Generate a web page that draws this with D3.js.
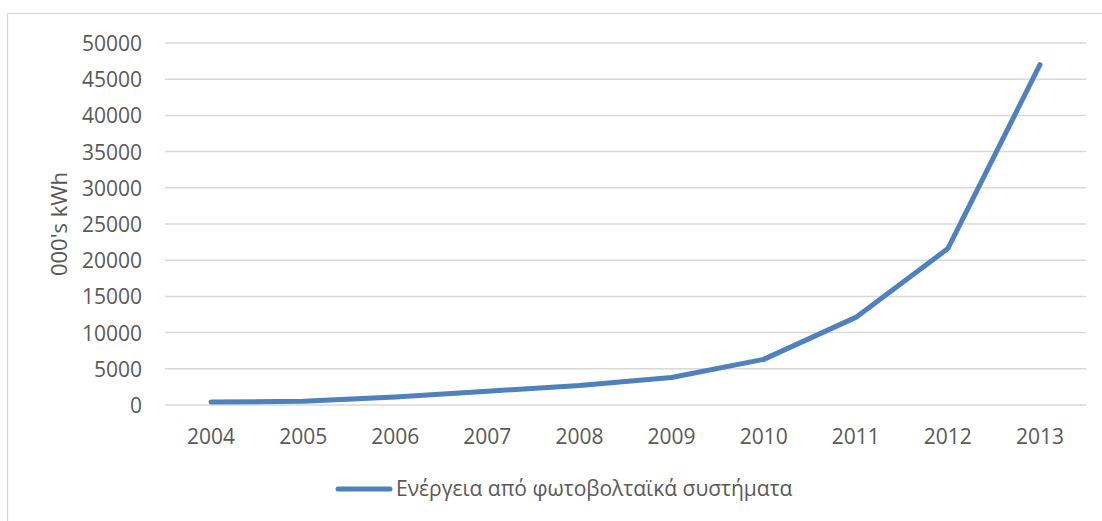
<!DOCTYPE html>
<html>
<head>
<meta charset="utf-8">
<script src="https://cdn.jsdelivr.net/npm/d3@7"></script>
<style>
  html, body { margin: 0; padding: 0; background: #fff; }
  svg { display: block; }
  text { font-family: "Open Sans", "Noto Sans", sans-serif; fill: #595959; }
</style>
</head>
<body>
<svg id="chart" width="1102" height="521"></svg>
<script>
const categories = ["2004", "2005", "2006", "2007", "2008", "2009", "2010", "2011", "2012", "2013"];
const seriesName = "Ενέργεια από φωτοβολταϊκά συστήματα";
const seriesValues = [400, 520, 1100, 1900, 2700, 3800, 6300, 12100, 21600, 47000];
const yTicks = [0, 5000, 10000, 15000, 20000, 25000, 30000, 35000, 40000, 45000, 50000];
const yTitle = "000's kWh";

const svg = d3.select("#chart");
const W = 1102, H = 521;
const plot = { left: 165, right: 1086, top: 43, bottom: 405 };

// outer chart frame
svg.append("rect")
  .attr("x", 7.5).attr("y", 13.5)
  .attr("width", W + 20).attr("height", H + 20)
  .attr("fill", "#fff").attr("stroke", "#d9d9d9").attr("stroke-width", 1.3);

const x = d3.scaleBand().domain(categories).range([plot.left, plot.right]);
const y = d3.scaleLinear().domain([0, 50000]).range([plot.bottom, plot.top]);

// gridlines
svg.append("g").selectAll("line").data(yTicks).join("line")
  .attr("x1", plot.left).attr("x2", plot.right)
  .attr("y1", d => y(d)).attr("y2", d => y(d))
  .attr("stroke", "#d9d9d9").attr("stroke-width", 1.5);

// y axis labels
const yAxis = d3.axisLeft(y).tickValues(yTicks).tickSize(0).tickPadding(0).tickFormat(d3.format("d"));
const gy = svg.append("g").attr("transform", `translate(142,0)`).call(yAxis);
gy.select(".domain").remove();
gy.selectAll("text").attr("font-size", 21).attr("fill", "#595959")
  .attr("font-family", "'Open Sans', sans-serif").attr("dy", "0.36em");

// x axis labels
const xAxis = d3.axisBottom(x).tickSize(0).tickPadding(0);
const gx = svg.append("g").attr("transform", `translate(0,${plot.bottom})`).call(xAxis);
gx.select(".domain").remove();
gx.selectAll("text").attr("font-size", 21).attr("fill", "#595959")
  .attr("font-family", "'Open Sans', sans-serif").attr("dy", null).attr("y", 39);

// y title
svg.append("text")
  .attr("transform", `translate(67,${(plot.top + plot.bottom) / 2}) rotate(-90)`)
  .attr("text-anchor", "middle")
  .attr("font-size", 22)
  .text(yTitle);

// line
const line = d3.line()
  .x((d, i) => x(categories[i]) + x.bandwidth() / 2)
  .y(d => y(d));
svg.append("path").datum(seriesValues)
  .attr("d", line)
  .attr("fill", "none")
  .attr("stroke", "#4f81bd")
  .attr("stroke-width", 5)
  .attr("stroke-linecap", "round")
  .attr("stroke-linejoin", "round");

// legend
const lg = svg.append("g");
lg.append("line")
  .attr("x1", 338).attr("x2", 390).attr("y1", 489).attr("y2", 489)
  .attr("stroke", "#4f81bd").attr("stroke-width", 5).attr("stroke-linecap", "round");
lg.append("text")
  .attr("x", 396).attr("y", 496)
  .attr("font-size", 21)
  .text(seriesName);
</script>
</body>
</html>
